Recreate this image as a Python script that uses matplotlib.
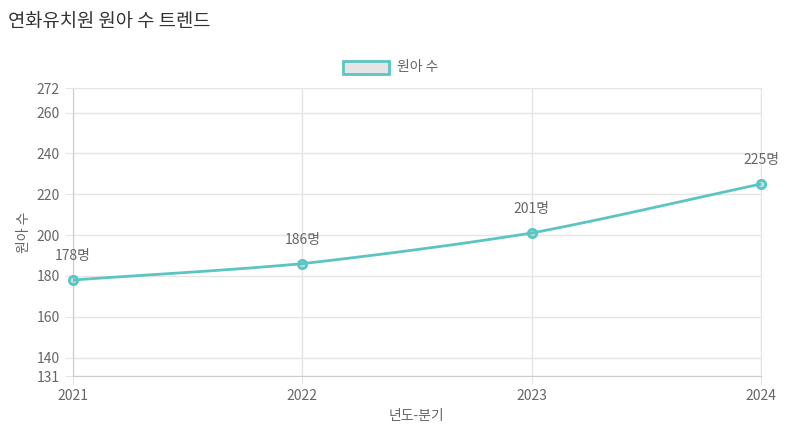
import numpy as np
import matplotlib
matplotlib.use("Agg")
import matplotlib.pyplot as plt
from matplotlib.patches import Rectangle
from matplotlib import font_manager

names = {f.name for f in font_manager.fontManager.ttflist}
cjk = [n for n in ["Noto Sans CJK KR", "Noto Sans CJK JP", "Noto Sans CJK SC", "Noto Sans CJK TC"] if n in names]
plt.rcParams["font.family"] = cjk + ["DejaVu Sans"]

years = ["2021", "2022", "2023", "2024"]
kids = [178, 186, 201, 225]
yticks = [131, 140, 160, 180, 200, 220, 240, 260, 272]
color = "#5bc5c2"

fig = plt.figure(figsize=(7.95, 4.45), dpi=100)
ax = fig.add_axes([73 / 795, 1 - 376 / 445, 688 / 795, 288 / 445])

x = np.arange(len(years))
y = np.array(kids, dtype=float)

# smooth drawing curve (like chart.js tension)
def smooth(xs, ys, t=0.3, n=40):
    px, py = [], []
    for i in range(len(xs) - 1):
        x0, x1 = xs[i], xs[i + 1]
        y0, y1 = ys[i], ys[i + 1]
        mp = (ys[i + 1] - ys[i - 1]) / (xs[i + 1] - xs[i - 1]) if i > 0 else (y1 - y0) / (x1 - x0)
        mn = (ys[i + 2] - ys[i]) / (xs[i + 2] - xs[i]) if i + 2 < len(xs) else (y1 - y0) / (x1 - x0)
        h = x1 - x0
        s = np.linspace(0, 1, n)
        h00 = 2 * s**3 - 3 * s**2 + 1
        h10 = s**3 - 2 * s**2 + s
        h01 = -2 * s**3 + 3 * s**2
        h11 = s**3 - s**2
        k = 2 * t
        mc = (y1 - y0) / h
        px.extend(x0 + s * h)
        py.extend(h00 * y0 + h10 * h * (mc + (mp - mc) * k) + h01 * y1 + h11 * h * (mc + (mn - mc) * k))
    return px, py

sx, sy = smooth(x, y)
ax.plot(sx, sy, color=color, lw=2, zorder=3)
ax.plot(x, y, "o", ms=6, mfc=(0.36, 0.77, 0.76, 0.4), mec=color, mew=2, zorder=4, clip_on=False)
for xi, yi in zip(x, kids):
    ax.annotate(f"{yi}명", (xi, yi), xytext=(0, 12), textcoords="offset points",
                ha="center", va="bottom", fontsize=10, color="#666666")

ax.set_xlim(0, 3)
ax.set_ylim(131, 272)
ax.set_xticks(x, years)
ax.set_yticks(yticks)
ax.grid(True, color="#e5e5e5", lw=1)
ax.set_axisbelow(True)
for sp in ax.spines.values():
    sp.set_color("#e5e5e5")
ax.spines["left"].set_color("#cccccc")
ax.spines["bottom"].set_color("#cccccc")
ax.tick_params(colors="#666666", labelsize=10, length=6, color="#e5e5e5")
ax.set_xlabel("년도-분기", color="#666666", fontsize=10)
ax.set_ylabel("원아 수", color="#666666", fontsize=10)

fig.text(8 / 795, 1 - 22 / 445, "연화유치원 원아 수 트렌드", fontsize=13.5, color="#333333", va="center")
fig.patches.append(Rectangle((343 / 795, 1 - 74 / 445), 46 / 795, 13 / 445, transform=fig.transFigure,
                             facecolor="#e5e5e5", edgecolor=color, lw=2))
fig.text(397 / 795, 1 - 67 / 445, "원아 수", fontsize=10, color="#666666", va="center")

fig.savefig("out.png", dpi=100)
